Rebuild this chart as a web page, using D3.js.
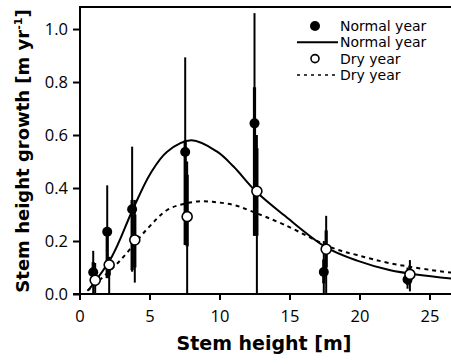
<!DOCTYPE html>
<html>
<head>
<meta charset="utf-8">
<script src="https://cdn.jsdelivr.net/npm/d3@7"></script>
<style>
  body { margin: 0; background: #fff; }
  svg { display: block; }
  text { font-family: "Open Sans", "DejaVu Sans", sans-serif; }
</style>
</head>
<body>
<svg id="chart" width="451" height="364"></svg>
<script>
// stem height classes (x of each group)
let normalX = [0.98, 1.98, 3.76, 7.55, 12.5, 17.45, 23.43];
let normalY = [0.082, 0.235, 0.32, 0.536, 0.644, 0.083, 0.055];
let normalThin = [[0.0, 0.163], [0.06, 0.41], [0.084, 0.556], [0.185, 0.893], [0.22, 1.06], [0.0, 0.2], [0.02, 0.1]];
let normalThick = [[0.04, 0.12], [0.06, 0.24], [0.09, 0.355], [0.185, 0.58], [0.22, 0.78], [0.04, 0.13], [0.035, 0.08]];

let dryX = [1.12, 2.12, 3.95, 7.69, 12.67, 17.62, 23.6];
let dryY = [0.052, 0.11, 0.204, 0.292, 0.388, 0.169, 0.074];
let dryThin = [[0.0, 0.117], [0.0, 0.14], [0.043, 0.355], [0.0, 0.5], [0.0, 0.6], [0.0, 0.295], [0.01, 0.128]];
let dryThick = [[0.03, 0.08], [0.07, 0.14], [0.1, 0.3], [0.18, 0.45], [0.22, 0.55], [0.1, 0.24], [0.04, 0.1]];

// fitted curves
let normalCurveX = [0.64, 2.31, 3.79, 5.07, 6.26, 8.0, 9.83, 11.02, 12.57, 14.6, 17.62, 19.83, 22.2, 26.6];
let normalCurveY = [0.015, 0.141, 0.317, 0.455, 0.537, 0.58, 0.537, 0.48, 0.389, 0.298, 0.176, 0.126, 0.09, 0.058];
let dryCurveX = [0.56, 2.79, 4.81, 6.26, 7.45, 8.64, 9.83, 11.02, 12.2, 14.6, 18.17, 19.83, 22.2, 26.0, 26.6];
let dryCurveY = [0.012, 0.12, 0.244, 0.317, 0.34, 0.35, 0.346, 0.336, 0.314, 0.262, 0.172, 0.147, 0.116, 0.084, 0.081];

let xTicks = [0, 5, 10, 15, 20, 25];
let yTicks = [0, 0.2, 0.4, 0.6, 0.8, 1.0];
let legendLabels = ["Normal year", "Normal year", "Dry year", "Dry year"];

let svg = d3.select("#chart");

let xScale = d3.scaleLinear().domain([0, 26.6]).range([79.5, 451.9]);
let yScale = d3.scaleLinear().domain([0, 1.085]).range([294, 6.5]);

let plot = svg.append("g");

// curves
let line = d3.line()
    .x(d => xScale(d[0]))
    .y(d => yScale(d[1]))
    .curve(d3.curveCatmullRom.alpha(0.5));

plot.append("path")
    .datum(dryCurveX.map((x, i) => [x, dryCurveY[i]]))
    .attr("d", line)
    .attr("fill", "none")
    .attr("stroke", "#000")
    .attr("stroke-width", 2)
    .attr("stroke-dasharray", "4,4");

plot.append("path")
    .datum(normalCurveX.map((x, i) => [x, normalCurveY[i]]))
    .attr("d", line)
    .attr("fill", "none")
    .attr("stroke", "#000")
    .attr("stroke-width", 2);

// error bars
function bars(xs, ranges, width) {
    plot.append("g").selectAll("line")
        .data(ranges)
        .join("line")
        .attr("x1", (d, i) => xScale(xs[i]))
        .attr("x2", (d, i) => xScale(xs[i]))
        .attr("y1", d => yScale(d[0]))
        .attr("y2", d => yScale(d[1]))
        .attr("stroke", "#000")
        .attr("stroke-width", width);
}
bars(normalX, normalThin, 2);
bars(dryX, dryThin, 2);
bars(normalX, normalThick, 3.2);
bars(dryX, dryThick, 3.2);

// points
plot.append("g").selectAll("circle")
    .data(normalY)
    .join("circle")
    .attr("cx", (d, i) => xScale(normalX[i]))
    .attr("cy", d => yScale(d))
    .attr("r", 5)
    .attr("fill", "#000");

plot.append("g").selectAll("circle")
    .data(dryY)
    .join("circle")
    .attr("cx", (d, i) => xScale(dryX[i]))
    .attr("cy", d => yScale(d))
    .attr("r", 5)
    .attr("fill", "#fff")
    .attr("stroke", "#000")
    .attr("stroke-width", 1.6);

// axes
let xAxis = d3.axisBottom(xScale).tickValues(xTicks).tickSize(6).tickSizeOuter(0).tickPadding(10);
let xAxisGroup = svg.append("g")
    .attr("transform", "translate(0, 294)")
    .call(xAxis);

let yAxis = d3.axisLeft(yScale).tickValues(yTicks).tickSize(7).tickSizeOuter(0)
    .tickPadding(5).tickFormat(d3.format(".1f"));
let yAxisGroup = svg.append("g")
    .attr("transform", "translate(80, 0)")
    .call(yAxis);

svg.selectAll(".domain").remove();
svg.selectAll(".tick line").attr("stroke", "#000").attr("stroke-width", 2);
svg.selectAll(".tick text").attr("font-size", 16.5).attr("fill", "#000")
    .style("font-family", "'Open Sans', sans-serif");

// frame: left axis, bottom axis, top line
svg.append("line").attr("x1", 80).attr("x2", 80).attr("y1", 7).attr("y2", 295)
    .attr("stroke", "#000").attr("stroke-width", 2);
svg.append("line").attr("x1", 73).attr("x2", 451).attr("y1", 294).attr("y2", 294)
    .attr("stroke", "#000").attr("stroke-width", 2);
svg.append("line").attr("x1", 79).attr("x2", 451).attr("y1", 7).attr("y2", 7)
    .attr("stroke", "#000").attr("stroke-width", 2);

// axis titles
svg.append("text")
    .attr("x", 264)
    .attr("y", 350)
    .attr("text-anchor", "middle")
    .attr("font-size", 19)
    .attr("font-weight", "bold")
    .style("font-family", "'DejaVu Sans', sans-serif")
    .text("Stem height [m]");

let yTitle = svg.append("text")
    .attr("transform", "translate(29, 151) rotate(-90)")
    .attr("text-anchor", "middle")
    .attr("font-size", 18)
    .attr("font-weight", "bold")
    .style("font-family", "'DejaVu Sans', sans-serif");
yTitle.append("tspan").text("Stem height growth [m yr");
yTitle.append("tspan").attr("dy", -7).attr("font-size", 11).text("-1");
yTitle.append("tspan").attr("dy", 7).text("]");

// legend
let legend = svg.append("g");
let rowY = [26, 42.3, 58.6, 75];
legend.selectAll("text")
    .data(legendLabels)
    .join("text")
    .attr("x", 340)
    .attr("y", (d, i) => rowY[i] + 5)
    .attr("font-size", 14)
    .style("font-family", "'DejaVu Sans', sans-serif")
    .text(d => d);

legend.append("circle").attr("cx", 315).attr("cy", rowY[0]).attr("r", 5).attr("fill", "#000");
legend.append("line").attr("x1", 297).attr("x2", 338).attr("y1", rowY[1]).attr("y2", rowY[1])
    .attr("stroke", "#000").attr("stroke-width", 2);
legend.append("circle").attr("cx", 315).attr("cy", rowY[2]).attr("r", 4)
    .attr("fill", "#fff").attr("stroke", "#000").attr("stroke-width", 1.6);
legend.append("line").attr("x1", 297).attr("x2", 338).attr("y1", rowY[3]).attr("y2", rowY[3])
    .attr("stroke", "#000").attr("stroke-width", 1.6).attr("stroke-dasharray", "3,4");
</script>
</body>
</html>
